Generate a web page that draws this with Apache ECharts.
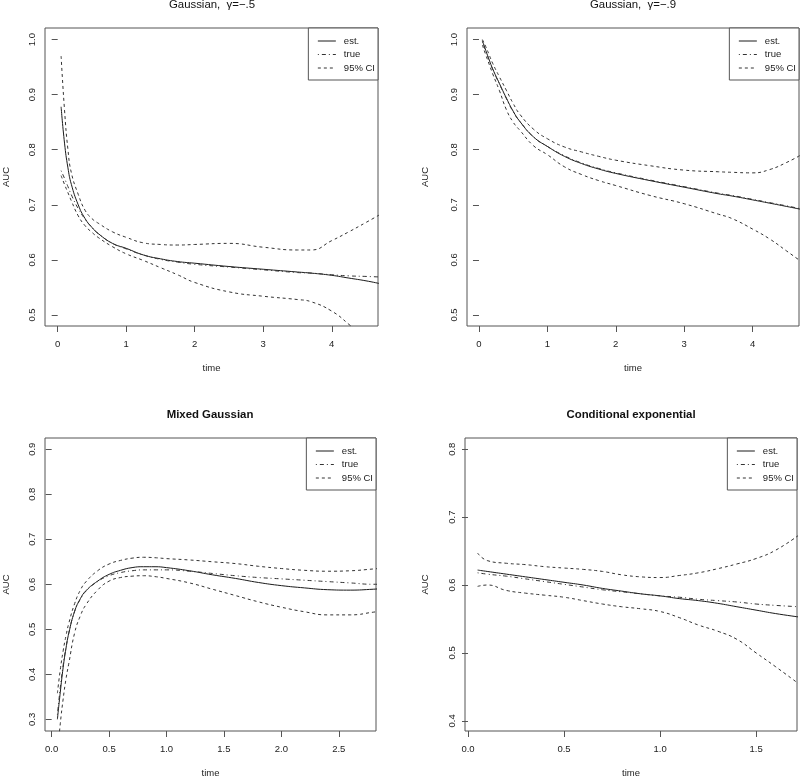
<!DOCTYPE html>
<html>
<head>
<meta charset="utf-8">
<script src="https://cdn.jsdelivr.net/npm/echarts@6/dist/echarts.min.js"></script>
<style>html,body{margin:0;padding:0;background:#fff}#c{width:800px;height:779px}</style>
</head>
<body>
<div id="c"></div>
<script>
// ---------- Panel 1: Gaussian, gamma = -.5 ----------
const time1  = [0.05,0.1,0.15,0.2,0.3,0.4,0.5,0.6,0.8,1.0,1.25,1.5,1.75,2.0,2.5,3.0,3.5,3.7,4.0,4.25,4.5,4.7];
const est1   = [0.878,0.812,0.767,0.737,0.700,0.675,0.659,0.647,0.630,0.621,0.609,0.602,0.597,0.594,0.588,0.583,0.578,0.576,0.572,0.567,0.562,0.557];
const true1  = [0.762,0.748,0.733,0.718,0.693,0.674,0.659,0.647,0.630,0.620,0.609,0.601,0.596,0.592,0.587,0.582,0.577,0.576,0.573,0.571,0.570,0.569];
const upper1 = [0.970,0.872,0.800,0.758,0.719,0.690,0.675,0.666,0.651,0.641,0.631,0.628,0.627,0.628,0.630,0.623,0.618,0.618,0.635,0.651,0.668,0.682];
const lower1 = [0.753,0.737,0.722,0.707,0.680,0.662,0.650,0.640,0.624,0.611,0.599,0.586,0.573,0.559,0.542,0.534,0.528,0.524,0.507,0.483,0.455,0.430];

// ---------- Panel 2: Gaussian, gamma = -.9 ----------
const time2  = [0.05,0.1,0.15,0.2,0.3,0.4,0.5,0.6,0.8,1.0,1.25,1.5,1.75,2.0,2.5,3.0,3.5,3.7,4.0,4.25,4.5,4.7];
const est2   = [0.998,0.980,0.963,0.947,0.920,0.894,0.870,0.851,0.823,0.806,0.788,0.775,0.765,0.757,0.744,0.732,0.720,0.716,0.709,0.703,0.697,0.692];
const true2  = [0.996,0.979,0.962,0.946,0.919,0.893,0.869,0.851,0.823,0.806,0.789,0.776,0.766,0.758,0.745,0.733,0.721,0.717,0.710,0.704,0.698,0.693];
const upper2 = [1.000,0.987,0.972,0.957,0.932,0.908,0.884,0.864,0.837,0.820,0.805,0.796,0.788,0.781,0.771,0.763,0.760,0.759,0.758,0.764,0.777,0.790];
const lower2 = [0.990,0.972,0.955,0.938,0.907,0.873,0.850,0.835,0.807,0.791,0.769,0.755,0.744,0.735,0.717,0.702,0.683,0.675,0.656,0.638,0.616,0.598];

// ---------- Panel 3: Mixed Gaussian ----------
const time3  = [0.05,0.075,0.1,0.125,0.15,0.2,0.25,0.3,0.4,0.5,0.6,0.7,0.8,0.9,1.0,1.2,1.4,1.6,1.8,2.0,2.2,2.4,2.6,2.8,2.85];
const est3   = [0.300,0.360,0.415,0.458,0.492,0.540,0.568,0.586,0.607,0.622,0.631,0.637,0.639,0.639,0.637,0.630,0.621,0.613,0.604,0.597,0.592,0.588,0.587,0.589,0.590];
const true3  = [0.310,0.370,0.420,0.460,0.493,0.540,0.567,0.585,0.606,0.619,0.626,0.630,0.632,0.632,0.632,0.629,0.624,0.619,0.615,0.612,0.609,0.606,0.603,0.600,0.600];
const upper3 = [0.358,0.410,0.452,0.486,0.514,0.557,0.587,0.606,0.630,0.645,0.653,0.658,0.660,0.659,0.657,0.654,0.650,0.646,0.640,0.635,0.631,0.629,0.630,0.634,0.635];
const lower3 = [0.220,0.290,0.345,0.390,0.425,0.492,0.530,0.555,0.587,0.607,0.615,0.618,0.619,0.617,0.613,0.603,0.589,0.575,0.561,0.549,0.539,0.532,0.532,0.538,0.540];

// ---------- Panel 4: Conditional exponential ----------
const time4  = [0.05,0.1,0.2,0.3,0.4,0.5,0.6,0.7,0.8,0.9,1.0,1.1,1.2,1.3,1.4,1.5,1.6,1.72];
const est4   = [0.622,0.620,0.616,0.612,0.608,0.604,0.600,0.595,0.591,0.587,0.584,0.580,0.577,0.573,0.568,0.563,0.558,0.553];
const true4  = [0.618,0.616,0.613,0.609,0.605,0.601,0.597,0.593,0.590,0.587,0.584,0.582,0.579,0.577,0.575,0.572,0.570,0.568];
const upper4 = [0.647,0.636,0.632,0.630,0.627,0.625,0.623,0.620,0.615,0.612,0.611,0.614,0.618,0.624,0.631,0.639,0.651,0.673];
const lower4 = [0.598,0.600,0.592,0.588,0.585,0.582,0.577,0.572,0.568,0.565,0.561,0.552,0.541,0.532,0.520,0.500,0.480,0.455];

// ---------- Tick values ----------
const xTicksTop = [0,1,2,3,4];
const yTicksTop = [0.5,0.6,0.7,0.8,0.9,1.0];
const xTicks3 = [0.0,0.5,1.0,1.5,2.0,2.5];
const yTicks3 = [0.3,0.4,0.5,0.6,0.7,0.8,0.9];
const xTicks4 = [0.0,0.5,1.0,1.5];
const yTicks4 = [0.4,0.5,0.6,0.7,0.8];

const titles = ['Gaussian,  \u03b3=\u2212.5', 'Gaussian,  \u03b3=\u2212.9', 'Mixed Gaussian', 'Conditional exponential'];
const legendNames = ['est.', 'true', '95% CI'];

const FONT = 'Liberation Sans, Arial, Helvetica, sans-serif';
const FS = 9.5;
const AX = '#555';
const TXT = '#222';

const panels = [
  {grid:{left:45, top:28, width:333, height:298}, xr:[-0.185,4.675], yr:[0.48,1.021], xt:xTicksTop, yt:yTicksTop, xfmt:v=>String(v), t:time1, s:[est1,true1,upper1,lower1], title:{x:212, y:-1, bold:false}, nameGapY:34},
  {grid:{left:467, top:28, width:332, height:298}, xr:[-0.175,4.679], yr:[0.48,1.021], xt:xTicksTop, yt:yTicksTop, xfmt:v=>String(v), t:time2, s:[est2,true2,upper2,lower2], title:{x:633, y:-1, bold:false}, nameGapY:37},
  {grid:{left:44, top:438, width:332, height:296}, xr:[-0.058,2.824], yr:[0.274,0.925], xt:xTicks3, yt:yTicks3, xfmt:v=>v.toFixed(1), t:time3, s:[est3,true3,upper3,lower3], title:{x:210, y:409, bold:true}, nameGapY:34},
  {grid:{left:465, top:438, width:332, height:296}, xr:[-0.0156,1.713], yr:[0.385,0.8165], xt:xTicks4, yt:yTicks4, xfmt:v=>v.toFixed(1), t:time4, s:[est4,true4,upper4,lower4], title:{x:631, y:409, bold:true}, nameGapY:35}
];

const styles = [
  {name:'est.', color:'#1a1a1a', type:'solid'},
  {name:'true', color:'#333', type:[1,3,4,3]},
  {name:'95% CI', color:'#333', type:[3,3]},
  {name:'95% CI', color:'#333', type:[3,3]}
];

const grids=[], xAxes=[], yAxes=[], series=[], titleArr=[], legends=[];
panels.forEach((p,i)=>{
  grids.push(Object.assign({show:true, borderColor:AX, borderWidth:1, containLabel:false}, p.grid));
  xAxes.push({
    type:'value', gridIndex:i, min:p.xr[0], max:p.xr[1],
    name:'time', nameLocation:'middle', nameGap:37,
    nameTextStyle:{fontSize:FS, color:TXT, fontFamily:FONT},
    axisLine:{show:false}, splitLine:{show:false},
    axisTick:{show:true, inside:false, length:6, lineStyle:{color:AX}, customValues:p.xt},
    axisLabel:{show:true, margin:13, fontSize:FS, color:TXT, fontFamily:FONT, customValues:p.xt, formatter:p.xfmt}
  });
  yAxes.push({
    type:'value', gridIndex:i, min:p.yr[0], max:p.yr[1],
    name:'AUC', nameLocation:'middle', nameGap:p.nameGapY,
    nameTextStyle:{fontSize:FS, color:TXT, fontFamily:FONT},
    axisLine:{show:false}, splitLine:{show:false},
    axisTick:{show:true, inside:false, length:6, lineStyle:{color:AX}, customValues:p.yt},
    axisLabel:{show:true, rotate:90, margin:8, fontSize:FS, color:TXT, fontFamily:FONT, customValues:p.yt, formatter:v=>v.toFixed(1)}
  });
  p.s.forEach((vals,k)=>{
    series.push({
      type:'line', name:styles[k].name, xAxisIndex:i, yAxisIndex:i,
      data:p.t.map((x,j)=>[x, vals[j]]),
      symbol:'none', showSymbol:false, smooth:0.5, clip:true,
      lineStyle:{color:styles[k].color, width:1, type:styles[k].type},
      itemStyle:{color:styles[k].color},
      emphasis:{disabled:true}, silent:true
    });
  });
  titleArr.push({
    text:titles[i], left:p.title.x, top:p.title.y, textAlign:'center', padding:0,
    textStyle:{fontSize:11.4, fontWeight:p.title.bold?'bold':'normal', color:'#111', fontFamily:FONT}
  });
  const rightEdge = p.grid.left + p.grid.width;
  legends.push({
    orient:'vertical', right: 800 - rightEdge, top: p.grid.top,
    itemWidth:18, itemHeight:8, itemGap:3.5, padding:[8,3,7,9],
    borderColor:AX, borderWidth:1, backgroundColor:'#fff',
    selectedMode:false,
    itemStyle:{opacity:0, borderWidth:0},
    lineStyle:{width:1},
    textStyle:{fontSize:FS, color:TXT, fontFamily:FONT, padding:[0,0,0,3]},
    data:legendNames
  });
});

const chart = echarts.init(document.getElementById('c'), null, {renderer:'canvas'});
chart.setOption({
  animation:false,
  backgroundColor:'#fff',
  textStyle:{fontFamily:FONT},
  title:titleArr,
  legend:legends,
  grid:grids,
  xAxis:xAxes,
  yAxis:yAxes,
  series:series
});
</script>
</body>
</html>
